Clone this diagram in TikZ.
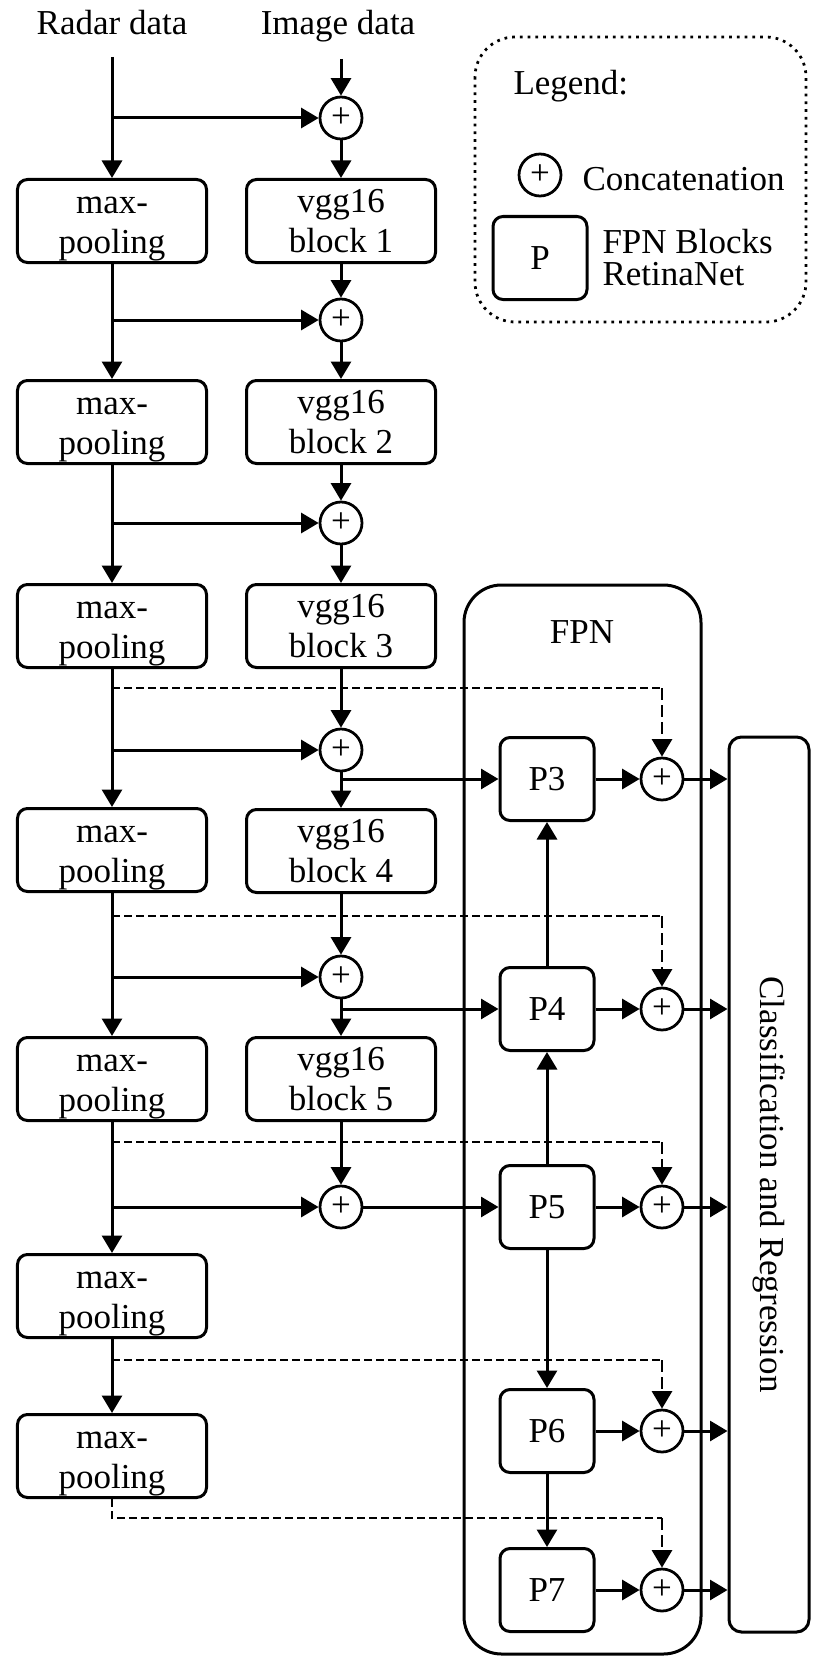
\documentclass[tikz,border=0pt]{standalone}
\usepackage{fontspec}
\setmainfont{Liberation Serif}
\usetikzlibrary{arrows.meta,positioning}
\tikzset{%
	block/.style    = {draw, line width=1.2pt, rectangle, rounded corners=4pt,
		minimum width=75.6pt, minimum height=33.2pt, align=center, inner sep=0pt},
	pblock/.style   = {draw, line width=1.2pt, rectangle, rounded corners=4pt,
		minimum width=37.6pt, minimum height=33.2pt, inner sep=0pt},
	sum/.style      = {draw, line width=1.1pt, circle, minimum size=16.8pt, inner sep=0pt}, % Concatenation
	conn/.style     = {line width=1.2pt, -{Triangle[length=7pt,width=8pt]}},
	skipline/.style = {line width=0.5pt, dash pattern=on 3.2pt off 1.6pt},
	skiparr/.style  = {line width=1.1pt, dash pattern=on 4.8pt off 2pt,
		-{Triangle[length=7pt,width=8pt]}},
	txt/.style      = {inner sep=0pt}
}
\newcommand{\mpool}{max-\vphantom{b}\\\smash{pooling}}
\begin{document}
\begin{tikzpicture}[x=0.4pt,y=-0.4pt,font=\fontsize{14}{16}\selectfont]
	\useasboundingbox (0,0) rectangle (834,1672);
	
	% inputs
	\node[anchor=base] (radar) at (112,35) {Radar data};
	\node[anchor=base] (image) at (338,35) {Image data};
	\coordinate (radarIn) at (112,57);
	\coordinate (imageIn) at (341,59);
	
	% radar branch
	\node[block] (mp1) at (112,221)  {\mpool};
	\node[block] (mp2) at (112,422)  {\mpool};
	\node[block] (mp3) at (112,626)  {\mpool};
	\node[block] (mp4) at (112,850)  {\mpool};
	\node[block] (mp5) at (112,1079) {\mpool};
	\node[block] (mp6) at (112,1296) {\mpool};
	\node[block] (mp7) at (112,1456) {\mpool};
	
	% image branch
	\node[block] (vgg1) at (341,221)  {vgg16\\block 1};
	\node[block] (vgg2) at (341,422)  {vgg16\\block 2};
	\node[block] (vgg3) at (341,626)  {vgg16\\block 3};
	\node[block] (vgg4) at (341,851)  {vgg16\\block 4};
	\node[block] (vgg5) at (341,1079) {vgg16\\block 5};
	\node[sum] (cat1) at (341,118)  {+};
	\node[sum] (cat2) at (341,320)  {+};
	\node[sum] (cat3) at (341,523)  {+};
	\node[sum] (cat4) at (341,750)  {+};
	\node[sum] (cat5) at (341,977)  {+};
	\node[sum] (cat6) at (341,1207) {+};
	
	% FPN
	\draw[line width=1.2pt,rounded corners=15pt] (464,585) rectangle (701,1654);
	\node (fpnlabel) at (582,632) {FPN};
	\node[pblock] (p3) at (547,779)  {P3};
	\node[pblock] (p4) at (547,1009) {P4};
	\node[pblock] (p5) at (547,1207) {P5};
	\node[pblock] (p6) at (547,1431) {P6};
	\node[pblock] (p7) at (547,1590) {P7};
	\foreach \i/\y in {3/779,4/1009,5/1207,6/1431,7/1590}
		\node[sum] (out\i) at (662,\y) {+};
	
	% head
	\node[draw,line width=1.2pt,rounded corners=5pt,minimum width=32pt,minimum height=358pt] (cls) at (769,1184.5) {};
	\node[rotate=-90] (clslabel) at (cls) {Classification and Regression};
	
	% legend
	\draw[line width=1.1pt,dotted,rounded corners=16pt] (475,37) rectangle (806,322);
	\node[txt,anchor=base west] (legtitle) at (513,95) {Legend:};
	\node[sum] (legcat) at (540,175) {+};
	\node[txt,anchor=base west] (legcattext) at (582,190) {Concatenation};
	\node[pblock] (legp) at (540,258) {P};
	\node[txt,anchor=base west] (legptext) at (602,253) {FPN Blocks};
	\node[txt,anchor=base west] (legptext2) at (602,285) {RetinaNet};
	
	% connections
	\draw[conn] (radarIn) -- (mp1);
	\foreach \a/\b in {mp1/mp2,mp2/mp3,mp3/mp4,mp4/mp5,mp5/mp6,mp6/mp7}
		\draw[conn] (\a) -- (\b);
	\draw[conn] (imageIn) -- (cat1);
	\foreach \i in {1,...,5}
		\draw[conn] (cat\i) -- (vgg\i);
	\foreach \i/\j in {1/2,2/3,3/4,4/5,5/6}
		\draw[conn] (vgg\i) -- (cat\j);
	\foreach \i in {1,...,6}
		\draw[conn] (cat\i -| mp1) -- (cat\i);
	\draw[conn] (cat4 |- p3) -- (p3);
	\draw[conn] (cat5 |- p4) -- (p4);
	\draw[conn] (cat6) -- (p5);
	\draw[conn] (p4) -- (p3);
	\draw[conn] (p5) -- (p4);
	\draw[conn] (p5) -- (p6);
	\draw[conn] (p6) -- (p7);
	\foreach \i in {3,...,7}{
		\draw[conn] (p\i) -- (out\i);
		\draw[conn] (out\i) -- (out\i -| cls.west);
	}
	
	% skip connections from radar branch
	\coordinate (d3) at (662,688);
	\coordinate (d4) at (662,916);
	\coordinate (d5) at (662,1142);
	\coordinate (d6) at (662,1360);
	\coordinate (d7) at (662,1518);
	\foreach \i in {3,...,6}
		\draw[skipline] (mp1 |- d\i) -- (d\i);
	\draw[skipline] (mp7.south) -- (mp7 |- d7) -- (d7);
	\foreach \i in {3,...,7}
		\draw[skiparr] (d\i) -- (out\i);
\end{tikzpicture}
\end{document}
